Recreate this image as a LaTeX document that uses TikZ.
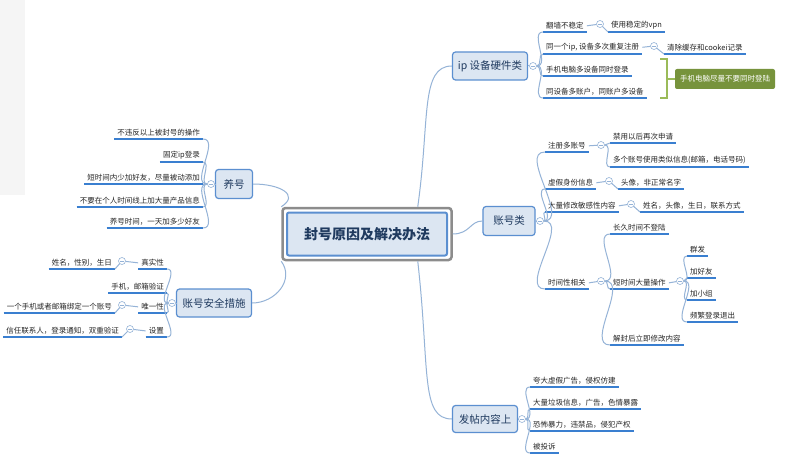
\documentclass[tikz,border=0pt]{standalone}
\usepackage{fontspec}
\setmainfont{Noto Sans CJK SC}
\begin{document}
\begin{tikzpicture}[x=1pt,y=-1pt,
  conn/.style={draw=cline,line width=1pt},
  uline/.style={draw=ublue,line width=1.4pt},
  leaf/.style={font=\fontsize{7.5}{8}\selectfont,text=black!85,inner xsep=3pt,inner ysep=2.5pt,
     append after command={(\tikzlastnode.south west) edge[uline] (\tikzlastnode.south east)}},
  mainb/.style={draw=bblue,line width=1.2pt,fill=bfill,rounded corners=3pt,font=\fontsize{10.5}{12}\selectfont,text=tdark,inner sep=0pt},
  coll/.style={circle,draw=cline,fill=white,line width=0.6pt,minimum size=7pt,inner sep=0pt,
     path picture={\draw[cline,line width=0.6pt] ([xshift=-2pt]path picture bounding box.center)--([xshift=2pt]path picture bounding box.center);}}]
\definecolor{cline}{HTML}{95B3D7}
\definecolor{ublue}{HTML}{3A7FD0}
\definecolor{bblue}{HTML}{5B8FD0}
\definecolor{bfill}{HTML}{DCE6F2}
\definecolor{tdark}{HTML}{1F3A5F}
\definecolor{gbox}{HTML}{77933C}
\definecolor{gbr}{HTML}{9BBB59}
\fill[white] (0,0) rectangle (800,476);
\useasboundingbox (0,0) rectangle (800,476);
\fill[black!4] (0,0) rectangle (25,195);
% center
\node[draw=black!45,line width=2.5pt,rounded corners=3pt,minimum width=169pt,minimum height=52pt] (cf) at (367,234) {};
\node[draw=bblue,line width=2pt,fill=bfill,rounded corners=2pt,minimum width=160pt,minimum height=43pt,font=\bfseries\fontsize{14}{16}\selectfont,text=tdark] (c) at (367,234) {封号原因及解决办法};
% main branches
\node[mainb,minimum width=75pt,minimum height=28pt] (ip) at (490,66) {ip 设备硬件类};
\node[mainb,minimum width=52pt,minimum height=29pt] (zh) at (509,221) {账号类};
\node[mainb,minimum width=37pt,minimum height=29pt] (yh) at (234,184) {养号};
\node[mainb,minimum width=75pt,minimum height=28pt] (aq) at (214,303) {账号安全措施};
\node[mainb,minimum width=65pt,minimum height=27pt] (ft) at (485,419) {发帖内容上};
\draw[conn] (cf.north east)+(-35,0) coordinate (c1);
\draw[conn] (c1) .. controls (430,120) and (420,66) .. (ip.west);
\draw[conn] (cf.east) .. controls (470,234) and (470,221) .. (zh.west);
\draw[conn] (yh.east) .. controls (280,184) and (300,195) .. (cf.north west);
\draw[conn] (aq.east) .. controls (275,303) and (295,280) .. (cf.south west);
\draw[conn] (cf.south east)+(-35,0) coordinate (c2);
\draw[conn] (c2) .. controls (430,370) and (420,419) .. (ft.west);
% ip branch
\node[coll] (ipc) at (533,66) {};
\draw[conn] (ip.east)--(ipc);
\node[leaf,anchor=south west] (i1) at (543,32) {翻墙不稳定};
\node[coll] (i1c) at (600,24) {};
\node[leaf,anchor=south west] (i1a) at (608,32) {使用稳定的vpn};
\node[leaf,anchor=south west] (i2) at (543,54) {同一个ip, 设备多次重复注册};
\node[coll] (i2c) at (654,46) {};
\node[leaf,anchor=south west] (i2a) at (664,54) {清除缓存和cookei记录};
\node[leaf,anchor=south west] (i3) at (543,76) {手机电脑多设备同时登录};
\node[leaf,anchor=south west] (i4) at (543,98) {同设备多账户，同账户多设备};
\foreach \l in {i1,i2,i3,i4} \draw[conn] (ipc.east) to[out=0,in=180] (\l.south west);
\draw[conn] (i1.east)--(i1c); \draw[conn] (i1c)--(i1a.south west);
\draw[conn] (i2.east)--(i2c); \draw[conn] (i2c)--(i2a.south west);
\node[fill=gbox,rounded corners=2pt,minimum width=100pt,minimum height=20pt,text=white,font=\itshape\fontsize{7.5}{8}\selectfont] (g) at (725,79) {手机电脑尽量不要同时登陆};
\coordinate (b1) at (660,59); \coordinate (b2) at (660,98); \coordinate (bm) at (667,79);
\draw[gbr,line width=1.6pt] (b1) -- ++(7,0) -- ++(0,39) -- (b2);
\draw[gbr,line width=1.6pt] (bm) -- (g.west);
% zh branch
\node[coll] (zhc) at (540,221) {};
\draw[conn] (zh.east)--(zhc);
\node[leaf,anchor=south west] (z1) at (545,152) {注册多账号};
\node[coll] (z1c) at (601,145) {};
\node[leaf,anchor=south west] (z1a) at (610,143) {禁用以后再次申请};
\node[leaf,anchor=south west] (z1b) at (610,167) {多个账号使用类似信息(邮箱，电话号码)};
\node[leaf,anchor=south west] (z2) at (545,189) {虚假身份信息};
\node[coll] (z2c) at (609,181) {};
\node[leaf,anchor=south west] (z2a) at (618,189) {头像，非正常名字};
\node[leaf,anchor=south west] (z3) at (545,212) {大量修改敏感性内容};
\node[coll] (z3c) at (631,204) {};
\node[leaf,anchor=south west] (z3a) at (640,212) {姓名，头像，生日，联系方式};
\node[leaf,anchor=south west] (z4) at (545,289) {时间性相关};
\node[coll] (z4c) at (601,281) {};
\node[leaf,anchor=south west] (t1) at (610,234) {长久时间不登陆};
\node[leaf,anchor=south west] (t2) at (610,289) {短时间大量操作};
\node[coll] (t2c) at (680,281) {};
\node[leaf,anchor=south west] (t3) at (610,345) {解封后立即修改内容};
\node[leaf,anchor=south west] (s1) at (687,256) {群发};
\node[leaf,anchor=south west] (s2) at (687,278) {加好友};
\node[leaf,anchor=south west] (s3) at (687,300) {加小组};
\node[leaf,anchor=south west] (s4) at (687,322) {频繁登录退出};
\foreach \l in {z1,z2,z3,z4} \draw[conn] (zhc.east) to[out=0,in=180] (\l.south west);
\draw[conn] (z1.east)--(z1c); \draw[conn] (z1c) to[out=0,in=180] (z1a.south west); \draw[conn] (z1c) to[out=0,in=180] (z1b.south west);
\draw[conn] (z2.east)--(z2c); \draw[conn] (z2c)--(z2a.south west);
\draw[conn] (z3.east)--(z3c); \draw[conn] (z3c)--(z3a.south west);
\draw[conn] (z4.east)--(z4c);
\foreach \l in {t1,t2,t3} \draw[conn] (z4c.east) to[out=0,in=180] (\l.south west);
\draw[conn] (t2.east)--(t2c);
\foreach \l in {s1,s2,s3,s4} \draw[conn] (t2c.east) to[out=0,in=180] (\l.south west);
% yh branch
\node[coll] (yhc) at (211,184) {};
\draw[conn] (yh.west)--(yhc);
\node[leaf,anchor=south east] (y1) at (203,139) {不违反以上被封号的操作};
\node[leaf,anchor=south east] (y2) at (203,162) {固定ip登录};
\node[leaf,anchor=south east] (y3) at (203,184) {短时间内少加好友，尽量被动添加};
\node[leaf,anchor=south east] (y4) at (203,207) {不要在个人时间线上加大量产品信息};
\node[leaf,anchor=south east] (y5) at (203,228) {养号时间，一天加多少好友};
\foreach \l in {y1,y2,y3,y4,y5} \draw[conn] (yhc.west) to[out=180,in=0] (\l.south east);
% aq branch
\node[coll] (aqc) at (172,303) {};
\draw[conn] (aq.west)--(aqc);
\node[leaf,anchor=south east] (a1) at (167,269) {真实性};
\node[coll] (a1c) at (122,261) {};
\node[leaf,anchor=south east] (a1a) at (115,269) {姓名，性别，生日};
\node[leaf,anchor=south east] (a2) at (167,293) {手机，邮箱验证};
\node[leaf,anchor=south east] (a3) at (167,313) {唯一性};
\node[coll] (a3c) at (122,305) {};
\node[leaf,anchor=south east] (a3a) at (115,313) {一个手机或者邮箱绑定一个账号};
\node[leaf,anchor=south east] (a4) at (167,337) {设置};
\node[coll] (a4c) at (130,329) {};
\node[leaf,anchor=south east] (a4a) at (122,337) {信任联系人，登录通知，双重验证};
\foreach \l in {a1,a2,a3,a4} \draw[conn] (aqc.west) to[out=180,in=0] (\l.south east);
\draw[conn] (a1.west)--(a1c); \draw[conn] (a1c)--(a1a.south east);
\draw[conn] (a3.west)--(a3c); \draw[conn] (a3c)--(a3a.south east);
\draw[conn] (a4.west)--(a4c); \draw[conn] (a4c)--(a4a.south east);
% ft branch
\node[coll] (ftc) at (522,419) {};
\draw[conn] (ft.east)--(ftc);
\node[leaf,anchor=south west] (f1) at (530,387) {夸大虚假广告，侵权仿建};
\node[leaf,anchor=south west] (f2) at (530,409) {大量垃圾信息，广告，色情暴露};
\node[leaf,anchor=south west] (f3) at (530,431) {恐怖暴力，违禁品，侵犯产权};
\node[leaf,anchor=south west] (f4) at (530,453) {被投诉};
\foreach \l in {f1,f2,f3,f4} \draw[conn] (ftc.east) to[out=0,in=180] (\l.south west);
\end{tikzpicture}
\end{document}
